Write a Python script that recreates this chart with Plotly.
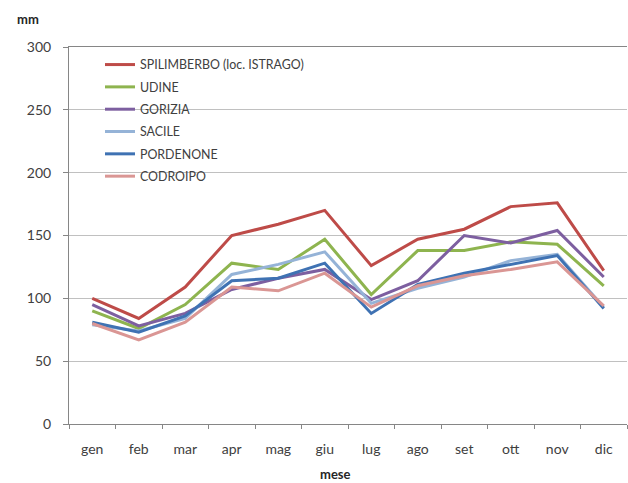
import plotly.graph_objects as go

months = ["gen", "feb", "mar", "apr", "mag", "giu", "lug", "ago", "set", "ott", "nov", "dic"]

spilimbergo = [100, 84, 109, 150, 159, 170, 126, 147, 155, 173, 176, 122]
udine = [90, 76, 95, 128, 123, 147, 103, 138, 138, 145, 143, 110]
gorizia = [95, 78, 88, 107, 116, 123, 99, 114, 150, 144, 154, 117]
sacile = [79, 74, 84, 119, 127, 137, 96, 108, 117, 130, 135, 93]
pordenone = [81, 73, 86, 114, 116, 128, 88, 111, 120, 127, 134, 92]
codroipo = [80, 67, 81, 109, 106, 120, 93, 110, 118, 123, 129, 94]

names = ["SPILIMBERBO (loc. ISTRAGO)", "UDINE", "GORIZIA", "SACILE", "PORDENONE", "CODROIPO"]
series = [spilimbergo, udine, gorizia, sacile, pordenone, codroipo]
colors = ["#BE4B48", "#8EB44F", "#7D5FA0", "#95B3D7", "#3F72B3", "#DA9694"]

FONT = "Lato"

fig = go.Figure()
for name, vals, col in zip(names, series, colors):
    fig.add_trace(go.Scatter(
        x=months, y=vals, name=name, mode="lines",
        line=dict(color=col, width=3), legendgroup=name,
    ))

fig.update_layout(
    width=628, height=483,
    margin=dict(l=69, r=1, t=47, b=59),
    paper_bgcolor="white", plot_bgcolor="white",
    font=dict(family=FONT, color="#404040"),
    showlegend=True,
    legend=dict(
        x=(100 - 69) / 558, xanchor="left",
        y=(424 - 50) / 377, yanchor="top",
        bgcolor="rgba(0,0,0,0)", borderwidth=0,
        font=dict(family=FONT, size=12.4, color="#404040"),
        traceorder="grouped", tracegroupgap=3.2,
    ),
    shapes=[dict(type="rect", xref="paper", yref="paper",
                 x0=0.003, x1=(333 - 69) / 558,
                 y0=(424 - 195) / 377, y1=(424 - 50) / 377,
                 fillcolor="white", line=dict(width=0), layer="between")],
    xaxis=dict(
        type="category", showgrid=False,
        showline=True, linecolor="#868686", linewidth=1, mirror=True,
        ticks="outside", ticklen=4, tickcolor="#868686", tickson="boundaries",
        tickfont=dict(family=FONT, size=14, color="#404040"),
        ticklabelstandoff=12,
        range=[-0.5, 11.5],
    ),
    yaxis=dict(
        range=[0, 300], dtick=50, tick0=0,
        showgrid=True, gridcolor="#C0C0C0", gridwidth=1,
        showline=True, linecolor="#868686", linewidth=1,
        ticks="outside", ticklen=5, tickcolor="#868686",
        tickfont=dict(family=FONT, size=14, color="#404040"),
        ticklabelstandoff=9,
        zeroline=False,
    ),
    annotations=[
        dict(text="<b>mm</b>", xref="paper", yref="paper",
             x=(28 - 69) / 558, y=(424 - 19) / 377, showarrow=False,
             xanchor="center", yanchor="middle",
             font=dict(family=FONT, size=13, color="#262626")),
        dict(text="<b>mese</b>", xref="paper", yref="paper",
             x=(335 - 69) / 558, y=(424 - 474) / 377, showarrow=False,
             xanchor="center", yanchor="middle",
             font=dict(family=FONT, size=13, color="#262626")),
    ],
)

fig.write_html("out.html")
